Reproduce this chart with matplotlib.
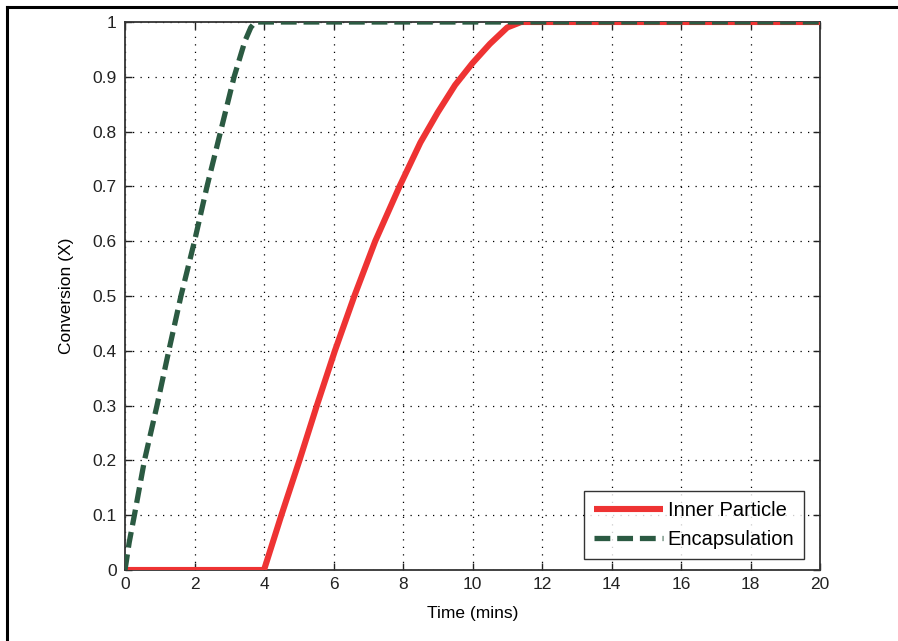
import matplotlib
matplotlib.use("Agg")
import matplotlib.pyplot as plt
from matplotlib.lines import Line2D

# Data
inner_t = [0, 4.0, 4.5, 5.02, 5.52, 6.04, 6.6, 7.2, 7.9, 8.5, 9.0, 9.5, 10.0, 10.5, 11.0, 11.4, 20]
inner_x = [0, 0.0, 0.1, 0.2, 0.3, 0.4, 0.5, 0.6, 0.7, 0.78, 0.835, 0.885, 0.925, 0.96, 0.99, 1.0, 1.0]

enc_t = [0, 0.12, 0.27, 0.56, 0.92, 1.26, 1.61, 2.0, 2.36, 2.75, 3.14, 3.45, 3.62, 3.75, 20]
enc_x = [0, 0.05, 0.1, 0.2, 0.3, 0.4, 0.5, 0.6, 0.7, 0.8, 0.9, 0.965, 0.99, 1.0, 1.0]

xticks = list(range(0, 21, 2))
yticks = [0, 0.1, 0.2, 0.3, 0.4, 0.5, 0.6, 0.7, 0.8, 0.9, 1]
yticklabels = ["0", "0.1", "0.2", "0.3", "0.4", "0.5", "0.6", "0.7", "0.8", "0.9", "1"]

plt.rcParams['font.family'] = ['Liberation Sans', 'DejaVu Sans']

W, H = 898, 641
fig = plt.figure(figsize=(W / 100, H / 100), dpi=100)
ax = fig.add_axes([125 / W, 1 - 570 / H, (820 - 125) / W, (570 - 22) / H])

ax.plot(inner_t, inner_x, color='#ee3333', lw=4.4, solid_capstyle='butt',
        solid_joinstyle='round', label='Inner Particle', zorder=3)
l2, = ax.plot(enc_t, enc_x, color='#2b5a42', lw=3.8, label='Encapsulation', zorder=4)
l2.set_dashes([3.0, 1.3])

ax.set_xlim(0, 20)
ax.set_ylim(0, 1)
ax.set_xticks(xticks)
ax.set_yticks(yticks)
ax.set_yticklabels(yticklabels)
ax.tick_params(direction='in', length=5, width=1, top=True, right=True,
               labelsize=12.5, colors='#222222', pad=5)
ax.tick_params(axis='y', pad=6)
for s in ax.spines.values():
    s.set_linewidth(1.3)
    s.set_color('#333333')

ax.grid(True, color='black', linestyle=(0, (1, 5)), linewidth=0.9)
ax.set_axisbelow(True)

ax.set_xlabel('Time (mins)', fontsize=12.5, labelpad=10)
ax.set_ylabel('Conversion (X)', fontsize=12.5, labelpad=13)

leg = ax.legend(loc='lower right', bbox_to_anchor=(0.9774, 0.0195), borderaxespad=0,
                fontsize=14.5, frameon=True, fancybox=False, handlelength=3.4,
                handletextpad=0.25, borderpad=0.5, labelspacing=0.5)
leg.get_frame().set_edgecolor('black')
leg.get_frame().set_linewidth(1.0)

# Outer figure frame (only top and left edges visible in the reference)
fig.add_artist(Line2D([6.5 / W, 6.5 / W], [0, 1 - 7 / H], transform=fig.transFigure,
                      color='black', linewidth=2.2, solid_capstyle='projecting'))
fig.add_artist(Line2D([6.5 / W, 1.02], [1 - 7 / H, 1 - 7 / H], transform=fig.transFigure,
                      color='black', linewidth=2.2, solid_capstyle='projecting'))

fig.savefig('out.png', dpi=100, facecolor='white')
